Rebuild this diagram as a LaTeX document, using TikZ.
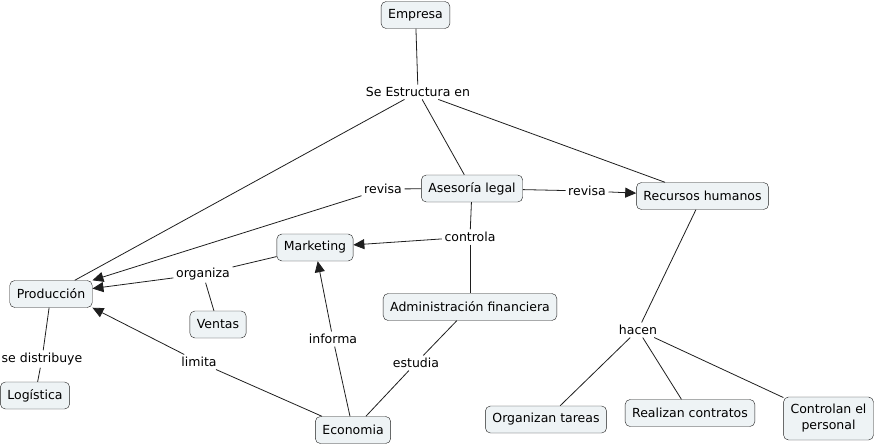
\documentclass[tikz,border=0pt]{standalone}
\usepackage{fontspec}
\setmainfont{DejaVu Sans}
\usetikzlibrary{arrows.meta}
\definecolor{cmapfill}{RGB}{238,243,245}
\definecolor{cmapline}{RGB}{30,30,30}

\begin{document}
\begin{tikzpicture}[x=1pt, y=-1pt,
    concept/.style={rectangle, rounded corners=5pt, draw=cmapline, fill=cmapfill,
                    minimum height=27pt, inner xsep=7pt, align=center,
                    font=\fontsize{12.5}{16}\selectfont},
    link/.style={fill=white, inner sep=2.5pt, font=\fontsize{12.5}{14}\selectfont},
    line/.style={draw=cmapline, line width=0.8pt},
    arr/.style={line, -{Triangle[length=11pt,width=10pt]}}
]
    \useasboundingbox (0,0) rectangle (876,445);

    % concepts
    \node[concept] (empresa) at (415.5,15) {Empresa};
    \node[concept] (asesoria) at (472,188.5) {Asesoría legal};
    \node[concept] (rrhh) at (702.5,196) {Recursos humanos};
    \node[concept] (marketing) at (315,247.5) {Marketing};
    \node[concept] (admin) at (470,307) {Administración financiera};
    \node[concept] (produccion) at (51,294) {Producción};
    \node[concept] (ventas) at (218,324.5) {Ventas};
    \node[concept] (logistica) at (35,395.5) {Logística};
    \node[concept] (economia) at (353,430) {Economia};
    \node[concept] (tareas) at (546,419.5) {Organizan tareas};
    \node[concept] (contratos) at (690,413) {Realizan contratos};
    \node[concept, minimum height=43pt] (personal) at (828.5,418.5) {Controlan el\\personal};

    % linking phrases
    \node[link] (estructura) at (418,92) {Se Estructura en};
    \node[link] (revisaizq) at (383,189) {revisa};
    \node[link] (revisader) at (587,191) {revisa};
    \node[link] (controla) at (470,237) {controla};
    \node[link] (organiza) at (203,274) {organiza};
    \node[link] (distribuye) at (42,359) {se distribuye};
    \node[link] (limita) at (199,362) {limita};
    \node[link] (informa) at (333,339) {informa};
    \node[link] (estudia) at (416,363) {estudia};
    \node[link] (hacen) at (638,330) {hacen};

    \draw[line] (empresa) -- (estructura);
    \draw[line] (estructura) -- (produccion.30);
    \draw[line] (estructura) -- (asesoria);
    \draw[line] (estructura) -- (rrhh);

    \draw[line] (asesoria) -- (revisaizq);
    \draw[arr] (revisaizq) -- (produccion.north east);
    \draw[line] (asesoria) -- (revisader);
    \draw[arr] (revisader) -- (rrhh);

    \draw[line] (asesoria) -- (controla);
    \draw[arr] (controla) -- (marketing);
    \draw[line] (controla) -- (admin);

    \draw[line] (marketing) -- (organiza);
    \draw[arr] (organiza) -- (produccion);
    \draw[line] (organiza) -- (ventas);

    \draw[line] (produccion) -- (distribuye);
    \draw[line] (distribuye) -- (logistica);

    \draw[line] (economia) -- (limita);
    \draw[arr] (limita) -- (produccion.south east);
    \draw[line] (economia) -- (informa);
    \draw[arr] (informa) -- (marketing);
    \draw[line] (economia) -- (estudia);
    \draw[line] (estudia) -- (admin);

    \draw[line] (rrhh) -- (hacen);
    \draw[line] (hacen) -- (tareas);
    \draw[line] (hacen) -- (contratos);
    \draw[line] (hacen) -- (personal);
\end{tikzpicture}
\end{document}
